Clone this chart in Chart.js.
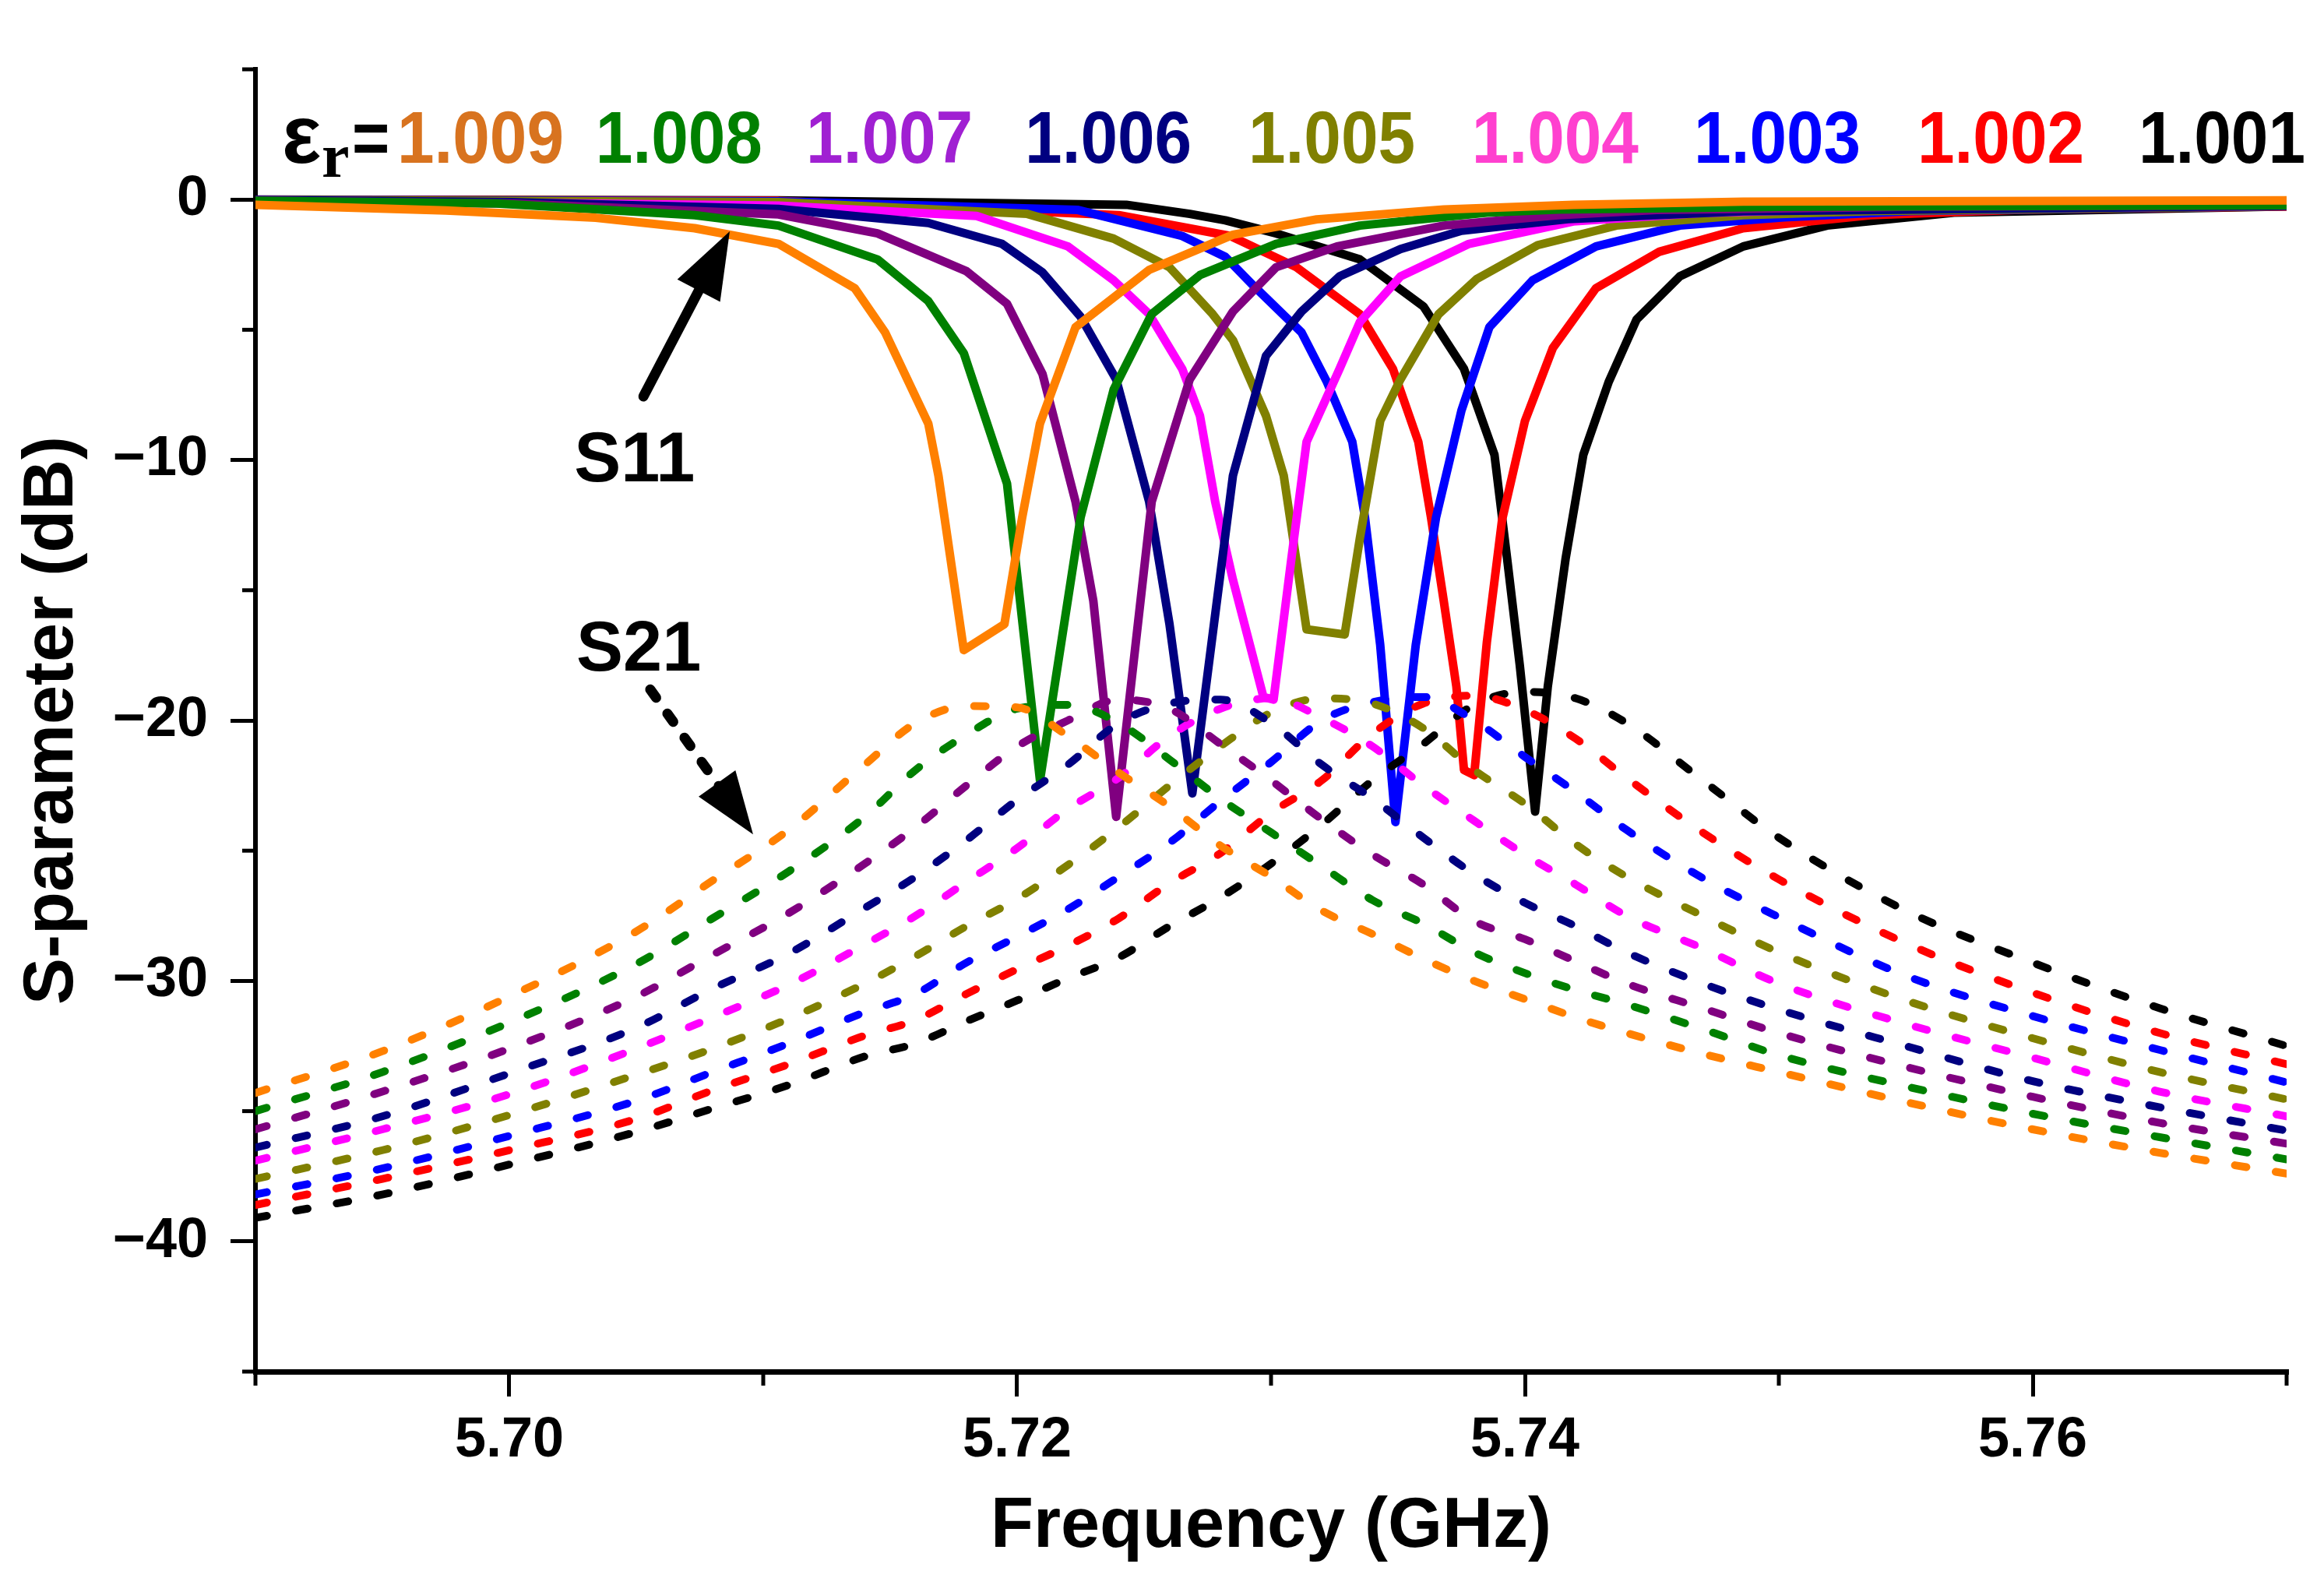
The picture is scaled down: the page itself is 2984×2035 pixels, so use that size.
<!DOCTYPE html>
<html>
<head>
<meta charset="utf-8">
<script src="https://cdn.jsdelivr.net/npm/chart.js@4.4.1/dist/chart.umd.min.js"></script>
<style>
html,body{margin:0;padding:0;background:#fff;}
#wrap{width:2984px;height:2035px;position:relative;}
</style>
</head>
<body>
<div id="wrap"><canvas id="c"></canvas></div>
<script>
// ---------- labels & colours ----------
const legendLabels = ['1.009','1.008','1.007','1.006','1.005','1.004','1.003','1.002','1.001'];
const legendTextColors = ['#d8731f','#008000','#a020d2','#000080','#808000','#ff40cf','#0000ff','#ff0000','#000000'];
// curve colours, in the order the curves appear from low to high frequency
const curveColors = ['#ff8000','#008000','#800080','#000080','#ff00ff','#808000','#0000ff','#ff0000','#000000'];

// ---------- S11 (solid) : [frequency GHz, dB] ----------
const s11Orange = [[5.690,-0.2],[5.6975,-0.42],[5.7034,-0.7],[5.7073,-1.1],[5.7106,-1.7],[5.7136,-3.4],[5.7148,-5.1],[5.7165,-8.6],[5.7169,-10.6],[5.7179,-17.3],[5.7195,-16.3],[5.7202,-12.2],[5.7209,-8.6],[5.7223,-4.9],[5.7252,-2.7],[5.7285,-1.35],[5.7318,-0.76],[5.7368,-0.38],[5.7419,-0.2],[5.7486,-0.08],[5.770,-0.03]];
const s11Green = [[5.690,-0.05],[5.6995,-0.15],[5.7073,-0.6],[5.7106,-1.0],[5.7145,-2.3],[5.7165,-3.9],[5.7179,-5.9],[5.7196,-10.9],[5.7209,-22.3],[5.7225,-12.2],[5.7238,-7.3],[5.7253,-4.4],[5.7272,-2.9],[5.7302,-1.7],[5.7335,-1.0],[5.7385,-0.5],[5.7413,-0.38],[5.750,-0.28],[5.770,-0.22]];
const s11Purple = [[5.690,-0.05],[5.700,-0.15],[5.7106,-0.57],[5.7145,-1.3],[5.718,-2.75],[5.7196,-4.0],[5.721,-6.7],[5.7223,-11.6],[5.723,-15.4],[5.7239,-23.7],[5.7253,-11.6],[5.7268,-6.9],[5.7285,-4.3],[5.7302,-2.6],[5.7326,-1.8],[5.7368,-1.0],[5.7413,-0.6],[5.7452,-0.4],[5.755,-0.28],[5.770,-0.22]];
const s11Navy = [[5.690,-0.02],[5.700,-0.1],[5.7106,-0.36],[5.7165,-0.9],[5.7194,-1.7],[5.721,-2.8],[5.7225,-4.5],[5.7239,-6.9],[5.7252,-11.6],[5.726,-16.3],[5.7269,-22.8],[5.7285,-10.6],[5.7298,-6.0],[5.7312,-4.3],[5.7327,-2.95],[5.7351,-1.9],[5.7375,-1.2],[5.7417,-0.75],[5.7486,-0.45],[5.770,-0.24]];
const s11Magenta = [[5.690,-0.02],[5.7106,-0.23],[5.7184,-0.63],[5.722,-1.8],[5.7238,-3.1],[5.7252,-4.4],[5.7265,-6.5],[5.7272,-8.3],[5.7278,-11.6],[5.7285,-14.6],[5.7297,-19.1],[5.7301,-19.2],[5.7308,-13.8],[5.7314,-9.3],[5.7327,-6.5],[5.7335,-4.7],[5.7351,-2.95],[5.7378,-1.7],[5.7419,-0.84],[5.7469,-0.52],[5.7519,-0.38],[5.770,-0.24]];
const s11Olive = [[5.690,-0.01],[5.7106,-0.1],[5.7204,-0.55],[5.7238,-1.5],[5.726,-2.6],[5.7277,-4.4],[5.7285,-5.4],[5.7298,-8.3],[5.7305,-10.6],[5.7314,-16.5],[5.7329,-16.7],[5.7335,-13.0],[5.7343,-8.5],[5.7351,-6.9],[5.7366,-4.4],[5.7381,-3.05],[5.7405,-1.75],[5.7436,-1.0],[5.7486,-0.6],[5.7536,-0.44],[5.770,-0.25]];
const s11Blue = [[5.690,-0.01],[5.7106,-0.07],[5.7224,-0.4],[5.7265,-1.4],[5.7282,-2.2],[5.7293,-3.3],[5.7312,-5.1],[5.7322,-7.0],[5.7332,-9.3],[5.7337,-12.2],[5.7343,-17.1],[5.7349,-23.9],[5.7357,-17.1],[5.7365,-12.2],[5.7375,-8.1],[5.7386,-4.9],[5.7403,-3.1],[5.7428,-1.8],[5.7461,-1.0],[5.7502,-0.68],[5.7552,-0.44],[5.770,-0.25]];
const s11Red = [[5.690,-0.01],[5.7106,-0.05],[5.724,-0.6],[5.7284,-1.4],[5.731,-2.6],[5.7335,-4.4],[5.7348,-6.5],[5.7358,-9.3],[5.7363,-12.2],[5.7368,-15.4],[5.7373,-18.7],[5.7376,-21.9],[5.738,-22.1],[5.7385,-17.0],[5.7391,-12.3],[5.740,-8.5],[5.7411,-5.7],[5.7428,-3.4],[5.7453,-2.0],[5.7486,-1.1],[5.7536,-0.6],[5.7597,-0.38],[5.770,-0.26]];
const s11Black = [[5.690,0.0],[5.7106,-0.03],[5.7243,-0.2],[5.7268,-0.55],[5.7282,-0.8],[5.7302,-1.3],[5.7335,-2.3],[5.736,-4.1],[5.7376,-6.5],[5.7388,-9.8],[5.7393,-13.8],[5.7398,-17.9],[5.7404,-23.5],[5.7409,-18.7],[5.7416,-13.8],[5.7423,-9.8],[5.7433,-7.0],[5.7444,-4.6],[5.7461,-2.95],[5.7486,-1.8],[5.7519,-1.0],[5.7569,-0.5],[5.770,-0.26]];

// ---------- S21 (dashed) on a shared frequency grid ----------
const freqS21 = [5.690,5.695,5.700,5.705,5.708,5.711,5.714,5.716,5.718,5.720,5.722,5.724,5.726,5.728,5.730,5.732,5.734,5.736,5.738,5.740,5.742,5.744,5.747,5.750,5.755,5.760,5.765,5.770];
const s21Orange  = [-34.3,-32.7,-30.6,-28.1,-26.15,-24.2,-21.7,-20.1,-19.45,-19.5,-20.6,-22.0,-23.3,-24.8,-26.0,-27.3,-28.2,-29.15,-30.0,-30.7,-31.4,-32.0,-32.8,-33.5,-34.65,-35.7,-36.6,-37.4];
const s21Green   = [-35.0,-33.5,-31.6,-29.35,-27.6,-25.8,-23.7,-21.9,-20.55,-19.55,-19.4,-20.1,-21.5,-23.0,-24.3,-25.6,-26.9,-27.8,-28.9,-29.7,-30.35,-30.9,-31.85,-32.85,-34.05,-35.1,-36.0,-36.85];
const s21Purple  = [-35.7,-34.25,-32.6,-30.6,-29.0,-27.4,-25.5,-24.1,-22.5,-21.0,-20.0,-19.2,-19.55,-20.9,-22.3,-23.8,-25.15,-26.3,-27.7,-28.4,-29.25,-30.1,-31.05,-32.0,-33.3,-34.45,-35.45,-36.25];
const s21Navy    = [-36.4,-35.2,-33.55,-31.8,-30.3,-28.95,-27.2,-26.0,-24.6,-23.05,-21.7,-20.1,-19.35,-19.2,-20.1,-21.7,-23.0,-24.5,-25.9,-27.0,-27.9,-28.9,-30.1,-31.1,-32.5,-33.85,-34.85,-35.75];
const s21Magenta = [-36.9,-35.7,-34.35,-32.6,-31.4,-30.15,-28.6,-27.5,-26.2,-24.9,-23.4,-22.2,-20.6,-19.55,-19.15,-19.9,-21.0,-22.5,-23.85,-25.15,-26.3,-27.5,-28.75,-30.1,-31.65,-32.95,-34.25,-35.2];
const s21Olive   = [-37.6,-36.5,-35.15,-33.6,-32.6,-31.45,-30.1,-29.05,-27.9,-26.85,-25.55,-24.1,-22.5,-21.0,-19.7,-19.15,-19.35,-20.3,-21.9,-23.2,-24.75,-26.0,-27.5,-28.9,-30.75,-32.2,-33.5,-34.55];
const s21Blue    = [-38.2,-37.2,-35.95,-34.6,-33.5,-32.4,-31.2,-30.5,-29.3,-28.3,-27.25,-26.0,-24.7,-23.1,-21.6,-20.0,-19.3,-19.1,-20.0,-21.4,-22.75,-24.2,-26.05,-27.55,-29.8,-31.35,-32.65,-33.9];
const s21Red     = [-38.6,-37.6,-36.5,-35.3,-34.2,-33.2,-32.1,-31.5,-30.5,-29.55,-28.65,-27.6,-26.25,-25.1,-23.55,-22.3,-20.5,-19.35,-19.05,-19.6,-20.7,-22.2,-24.3,-26.1,-28.55,-30.45,-32.0,-33.2];
const s21Black   = [-39.1,-38.2,-37.05,-35.8,-34.9,-34.0,-32.9,-32.4,-31.55,-30.75,-29.9,-29.1,-27.9,-26.8,-25.5,-24.0,-22.3,-20.9,-19.4,-18.9,-19.15,-20.1,-22.3,-24.5,-27.3,-29.3,-31.05,-32.5];

// ---------- axes ----------
const xMin = 5.69, xMax = 5.77, xStep = 0.01;
const yMin = -45, yMax = 5, yStep = 5;

// ---------- annotation anchors (data units) ----------
const legendBaseline = 1.40;                         // dB level of the legend baseline
const epsAnchor = 5.69104, subAnchor = 5.69261, eqAnchor = 5.69380;
const legendStarts = [5.69558,5.70340,5.71169,5.72031,5.72911,5.73791,5.74666,5.75546,5.76417];
const s11Label = {text:'S11', f:5.70255, db:-10.82};
const s21Label = {text:'S21', f:5.70264, db:-18.09};
const s11Arrow = {from:[5.70528,-7.56], to:[5.70868,-1.22]};
const s21Arrow = {from:[5.70555,-18.81], to:[5.70960,-24.37]};

// ---------- build datasets ----------
const s11All = [s11Orange,s11Green,s11Purple,s11Navy,s11Magenta,s11Olive,s11Blue,s11Red,s11Black];
const s21All = [s21Orange,s21Green,s21Purple,s21Navy,s21Magenta,s21Olive,s21Blue,s21Red,s21Black];

const datasets = [];
s21All.forEach((vals,i)=>{
  datasets.push({
    label:'S21 '+i,
    data: freqS21.map((f,k)=>({x:f,y:vals[k]})),
    borderColor: curveColors[i],
    borderWidth: 10,
    borderDash: [15,38],
    borderCapStyle: 'round',
    borderJoinStyle: 'round',
    pointRadius: 0,
    cubicInterpolationMode: 'monotone',
    fill:false,
    order: 0
  });
});
s11All.forEach((pts,i)=>{
  datasets.push({
    label:'S11 '+i,
    data: pts.map(p=>({x:p[0],y:p[1]})),
    borderColor: curveColors[i],
    borderWidth: 11,
    borderJoinStyle: 'round',
    borderCapStyle: 'round',
    pointRadius: 0,
    tension: 0,
    fill:false,
    order: 1
  });
});

const FONT = '"Liberation Sans", Arial, Helvetica, sans-serif';
Chart.defaults.font.family = FONT;
Chart.defaults.color = '#000';

const isMajorX = v => Math.round(v*100) % 2 === 0;
const isMajorY = v => Math.round(v) % 10 === 0;

// minor tick marks
const minorTicks = {
  id:'minorTicks',
  afterDraw(chart){
    const {ctx, chartArea:a, scales:{x,y}} = chart;
    ctx.save();
    ctx.strokeStyle = '#000';
    ctx.lineWidth = 5;
    y.ticks.forEach(t=>{
      if (isMajorY(t.value)) return;
      const py = y.getPixelForValue(t.value);
      ctx.beginPath(); ctx.moveTo(a.left-17, py); ctx.lineTo(a.left, py); ctx.stroke();
    });
    x.ticks.forEach(t=>{
      if (isMajorX(t.value)) return;
      const px = x.getPixelForValue(t.value);
      ctx.beginPath(); ctx.moveTo(px, a.bottom); ctx.lineTo(px, a.bottom+18); ctx.stroke();
    });
    ctx.restore();
  }
};

function drawArrow(ctx, x1, y1, x2, y2, opt){
  const dx = x2-x1, dy = y2-y1, L = Math.hypot(dx,dy);
  const ux = dx/L, uy = dy/L;
  const bx = x2 - ux*opt.headLen, by = y2 - uy*opt.headLen;
  ctx.save();
  ctx.strokeStyle = '#000'; ctx.fillStyle = '#000';
  ctx.lineWidth = opt.width;
  ctx.lineCap = 'round';
  if (opt.dash) ctx.setLineDash(opt.dash);
  ctx.beginPath(); ctx.moveTo(x1,y1); ctx.lineTo(bx+ux*4, by+uy*4); ctx.stroke();
  ctx.setLineDash([]);
  ctx.beginPath();
  ctx.moveTo(x2,y2);
  ctx.lineTo(bx - uy*opt.half, by + ux*opt.half);
  ctx.lineTo(bx + uy*opt.half, by - ux*opt.half);
  ctx.closePath(); ctx.fill();
  ctx.restore();
}

function fillTextCondensed(ctx, text, x, y, sx){
  ctx.save();
  ctx.translate(x, y);
  ctx.scale(sx, 1);
  ctx.fillText(text, 0, 0);
  ctx.restore();
}

const annotations = {
  id:'annotations',
  afterDatasetsDraw(chart){
    const {ctx, scales:{x,y}} = chart;
    ctx.save();
    ctx.textBaseline = 'alphabetic';
    ctx.textAlign = 'left';
    // epsilon_r =
    const by = y.getPixelForValue(legendBaseline);
    ctx.fillStyle = '#000';
    ctx.font = 'bold 106px ' + FONT;
    ctx.fillText('\u03B5', x.getPixelForValue(epsAnchor), by);
    ctx.font = 'bold 80px "Liberation Serif", "Times New Roman", serif';
    ctx.fillText('r', x.getPixelForValue(subAnchor), by + 18);
    ctx.font = 'bold 94px ' + FONT;
    fillTextCondensed(ctx, '=', x.getPixelForValue(eqAnchor), by, 0.88);
    // values
    legendLabels.forEach((t,i)=>{
      ctx.fillStyle = legendTextColors[i];
      fillTextCondensed(ctx, t, x.getPixelForValue(legendStarts[i]), by, 0.91);
    });
    // S11 / S21 labels
    ctx.fillStyle = '#000';
    ctx.font = 'bold 90px ' + FONT;
    [s11Label, s21Label].forEach(l=>{
      ctx.fillText(l.text, x.getPixelForValue(l.f), y.getPixelForValue(l.db));
    });
    ctx.restore();
    drawArrow(ctx,
      x.getPixelForValue(s11Arrow.from[0]), y.getPixelForValue(s11Arrow.from[1]),
      x.getPixelForValue(s11Arrow.to[0]), y.getPixelForValue(s11Arrow.to[1]),
      {width:13, headLen:86, half:31});
    drawArrow(ctx,
      x.getPixelForValue(s21Arrow.from[0]), y.getPixelForValue(s21Arrow.from[1]),
      x.getPixelForValue(s21Arrow.to[0]), y.getPixelForValue(s21Arrow.to[1]),
      {width:13, headLen:80, half:29, dash:[13,25]});
  }
};

new Chart(document.getElementById('c'), {
  type:'line',
  data:{datasets},
  plugins:[minorTicks, annotations],
  options:{
    responsive:true,
    maintainAspectRatio:false,
    devicePixelRatio:1,
    animation:false,
    events:[],
    layout:{padding:{top:89, right:48, bottom:0, left:0}},
    plugins:{legend:{display:false}, tooltip:{enabled:false}, title:{display:false}},
    scales:{
      x:{
        type:'linear', min:xMin, max:xMax,
        afterFit(s){ s.height = 274; },
        border:{display:true, color:'#000', width:7},
        grid:{drawOnChartArea:false, drawTicks:true, tickLength:32, lineWidth:5,
              color: c => (c.tick && isMajorX(c.tick.value)) ? '#000' : 'rgba(0,0,0,0)'},
        ticks:{stepSize:xStep, autoSkip:false, maxRotation:0, padding:14, color:'#000',
               font:{size:72, weight:'bold'},
               callback: v => isMajorX(v) ? (Math.round(v*100)/100).toFixed(2) : ''},
        title:{display:true, text:'Frequency (GHz)', color:'#000',
               font:{size:90, weight:'bold'}, padding:{top:0, bottom:20}}
      },
      y:{
        type:'linear', min:yMin, max:yMax,
        afterFit(s){ s.width = 328; },
        border:{display:true, color:'#000', width:6},
        grid:{drawOnChartArea:false, drawTicks:true, tickLength:32, lineWidth:5,
              color: c => (c.tick && isMajorY(c.tick.value)) ? '#000' : 'rgba(0,0,0,0)'},
        ticks:{stepSize:yStep, autoSkip:false, padding:29, color:'#000',
               font:{size:72, weight:'bold'},
               callback: v => isMajorY(v) ? (v < 0 ? '\u2212' + Math.abs(v) : String(v)) : ''},
        title:{display:true, text:'S-parameter (dB)', color:'#000',
               font:{size:90, weight:'bold'}, padding:{top:14, bottom:0}}
      }
    }
  }
});
</script>
</body>
</html>
